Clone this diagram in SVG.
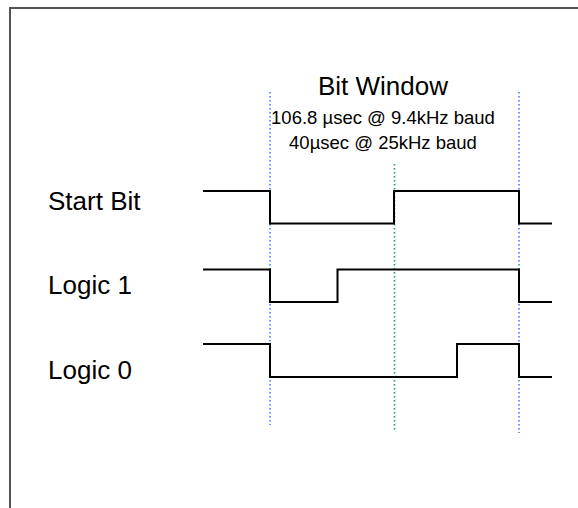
<svg xmlns="http://www.w3.org/2000/svg" width="578" height="508" viewBox="0 0 578 508">
<style>
.lbl{font-family:"Liberation Sans",Arial,sans-serif;font-size:26px;fill:#000}
.sub{font-family:"Liberation Sans",Arial,sans-serif;font-size:18.5px;fill:#000}
.wave{fill:none;stroke:#000;stroke-width:2}
.blue{stroke:#4a7cf5;stroke-width:1.6;stroke-dasharray:1.6,2.4;fill:none}
.green{stroke:#2e9a60;stroke-width:1.6;stroke-dasharray:1.6,2.4;fill:none}
</style>
<rect width="578" height="508" fill="#fff"/>
<path d="M10,520 V8 H590" fill="none" stroke="#555" stroke-width="2"/>
<g id="title">
<text class="lbl" x="383" y="95" text-anchor="middle">Bit Window</text>
<text class="sub" x="383" y="124" text-anchor="middle">106.8 µsec @ 9.4kHz baud</text>
<text class="sub" x="383" y="149" text-anchor="middle">40µsec @ 25kHz baud</text>
</g>
<g id="markers">
<line class="blue" x1="270" y1="92" x2="270" y2="425"/>
<line class="green" x1="394.5" y1="164" x2="394.5" y2="430"/>
<line class="blue" x1="519" y1="92" x2="519" y2="433"/>
</g>
<g id="start-bit">
<text class="lbl" x="48" y="210">Start Bit</text>
<path class="wave" d="M203,191 H270 V223.5 H394 V191 H519 V223.5 H552"/>
</g>
<g id="logic-1">
<text class="lbl" x="48" y="294">Logic 1</text>
<path class="wave" d="M203,269.5 H270 V302 H337.5 V269.5 H519 V302 H552"/>
</g>
<g id="logic-0">
<text class="lbl" x="48" y="379">Logic 0</text>
<path class="wave" d="M203,344 H270 V377 H457 V344 H519 V377 H552"/>
</g>
</svg>
